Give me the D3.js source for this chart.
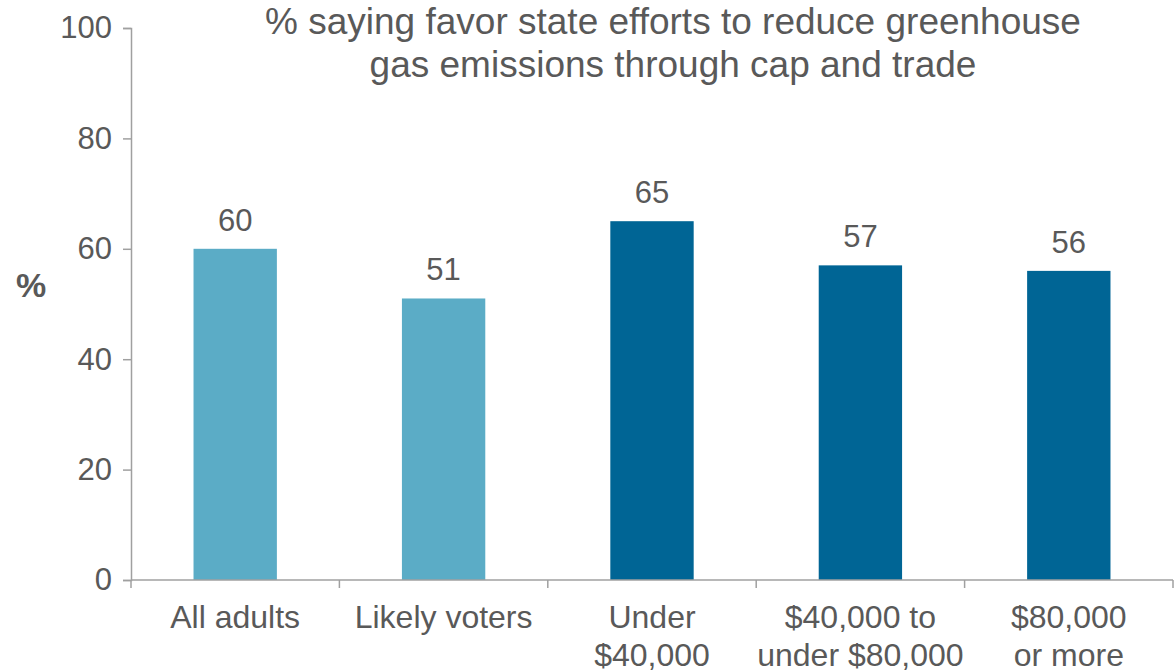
<!DOCTYPE html>
<html>
<head>
<meta charset="utf-8">
<script src="https://cdn.jsdelivr.net/npm/d3@7"></script>
<style>
  html, body { margin: 0; padding: 0; background: #fff; }
  text { font-family: "Liberation Sans", Arial, sans-serif; fill: #595959; }
</style>
</head>
<body>
<svg id="chart" width="1175" height="671"></svg>
<script>
const categories = [["All adults"], ["Likely voters"], ["Under", "$40,000"], ["$40,000 to", "under $80,000"], ["$80,000", "or more"]];
const values = [60, 51, 65, 57, 56];
const barColors = ["#5BACC6", "#5BACC6", "#006595", "#006595", "#006595"];
const yTicks = [0, 20, 40, 60, 80, 100];
const titleLines = ["% saying favor state efforts to reduce greenhouse", "gas emissions through cap and trade"];
const yLabel = "%";

(function() {
const svg = d3.select("#chart");
const mLeft = 131, mRight = 1173, mTop = 28, mBottom = 580;
const keys = categories.map((c, i) => i);

const x = d3.scaleBand().domain(keys).range([mLeft, mRight]).paddingInner(0.6).paddingOuter(0.3);
const xb = d3.scaleBand().domain(keys).range([mLeft, mRight]).padding(0);
const y = d3.scaleLinear().domain([0, 100]).range([mBottom, mTop]);

const axisColor = "#A0A0A0";

// y axis
const yAxis = svg.append("g").attr("transform", `translate(${mLeft},0)`)
  .call(d3.axisLeft(y).tickValues(yTicks).tickSize(8).tickPadding(11));
yAxis.select(".domain").attr("stroke", axisColor).attr("stroke-width", 1.5);
yAxis.selectAll(".tick line").attr("stroke", axisColor).attr("stroke-width", 1.5);
yAxis.selectAll(".tick text").attr("font-size", 31).attr("fill", "#595959")
  .style("font-family", '"Liberation Sans", Arial, sans-serif');

// bars
svg.append("g").selectAll("rect").data(values).join("rect")
  .attr("x", (d, i) => x(i))
  .attr("width", x.bandwidth())
  .attr("y", d => y(d))
  .attr("height", d => y(0) - y(d))
  .attr("fill", (d, i) => barColors[i]);

// x axis
const xg = svg.append("g");
xg.append("line").attr("x1", mLeft).attr("x2", mRight).attr("y1", y(0)).attr("y2", y(0))
  .attr("stroke", axisColor).attr("stroke-width", 1.5);
const bounds = keys.map(k => xb(k)).concat([xb(keys[keys.length - 1]) + xb.bandwidth()]);
xg.selectAll("line.tk").data(bounds).join("line").attr("class", "tk")
  .attr("x1", d => d).attr("x2", d => d).attr("y1", y(0)).attr("y2", y(0) + 8)
  .attr("stroke", axisColor).attr("stroke-width", 1.5);

// x labels
svg.append("g").selectAll("text").data(categories).join("text")
  .attr("text-anchor", "middle")
  .attr("font-size", 32)
  .attr("x", (d, i) => x(i) + x.bandwidth() / 2)
  .attr("y", 628)
  .each(function(d) {
    const t = d3.select(this);
    d.forEach((line, j) => {
      t.append("tspan").attr("x", t.attr("x")).attr("dy", j === 0 ? 0 : 38).text(line);
    });
  });

// value labels
svg.append("g").selectAll("text").data(values).join("text")
  .attr("text-anchor", "middle")
  .attr("font-size", 31)
  .attr("x", (d, i) => x(i) + x.bandwidth() / 2)
  .attr("y", d => y(d) - 18)
  .text(d => d);

// title
svg.append("g").selectAll("text").data(titleLines).join("text")
  .attr("text-anchor", "middle")
  .attr("font-size", 37)
  .attr("x", 673)
  .attr("y", (d, i) => 34 + i * 43)
  .text(d => d);

// y label
svg.append("text").attr("x", 31).attr("y", 297).attr("text-anchor", "middle")
  .attr("font-size", 34).attr("font-weight", "bold").text(yLabel);
})();
</script>
</body>
</html>
